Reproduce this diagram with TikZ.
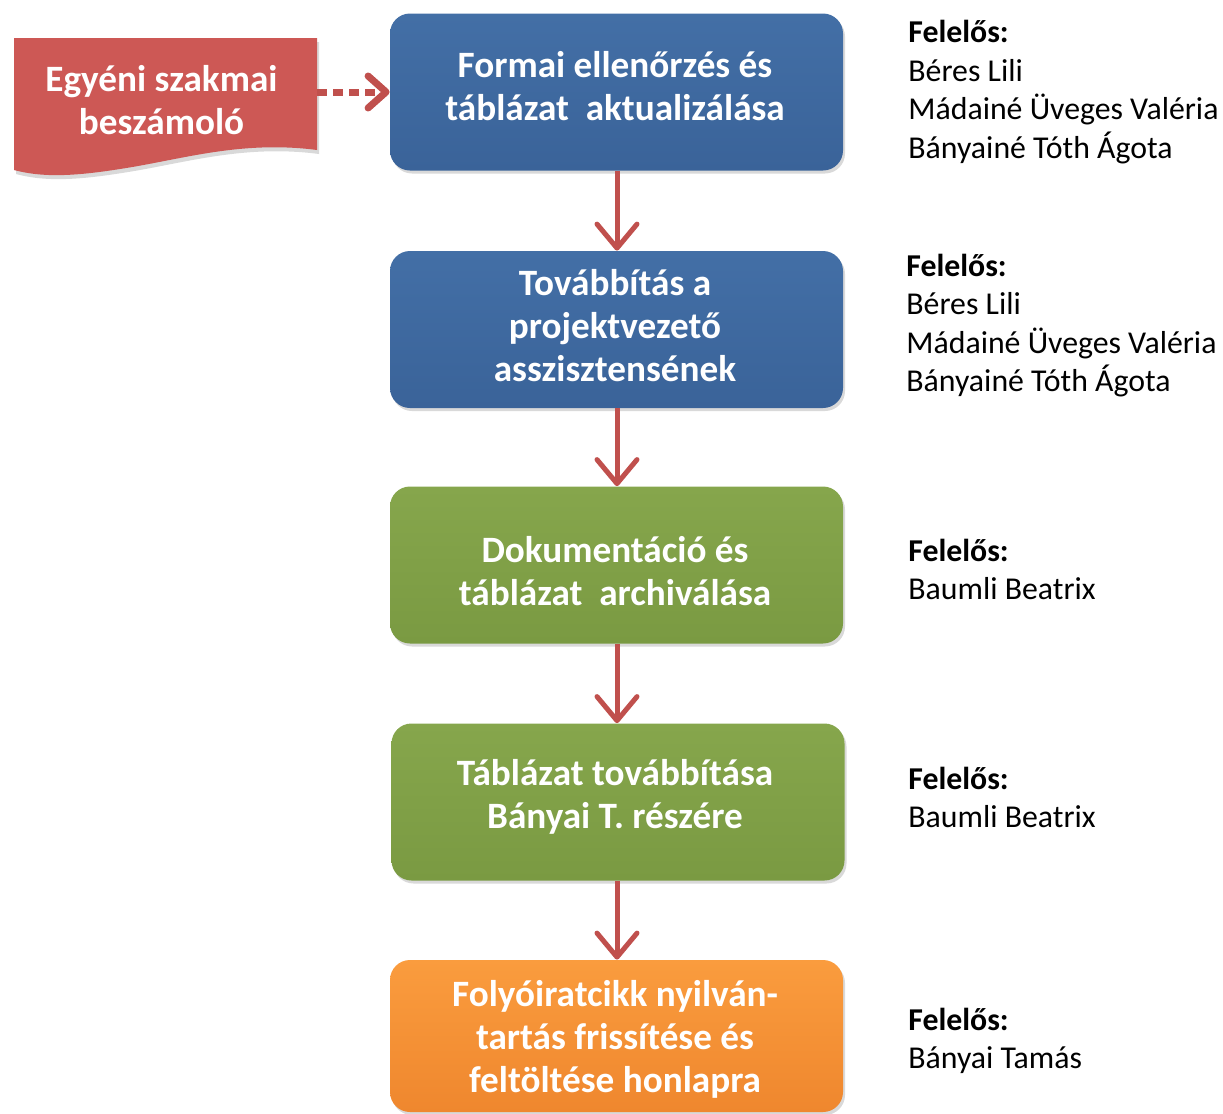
\documentclass[tikz,border=0pt]{standalone}
\usepackage{fontspec}
\setmainfont{Carlito}
\usetikzlibrary{arrows.meta,shadows,positioning}
\definecolor{linkred}{HTML}{C0504D}
\definecolor{docred}{HTML}{CD5855}
\definecolor{bluetop}{HTML}{436FA6}
\definecolor{bluebot}{HTML}{3A6399}
\definecolor{greentop}{HTML}{86A64C}
\definecolor{greenbot}{HTML}{7A9A42}
\definecolor{orangetop}{HTML}{FA9C3E}
\definecolor{orangebot}{HTML}{EF872E}

\begin{document}
\begin{tikzpicture}[x=0.5pt, y=-0.5pt, >={Straight Barb[length=12pt,width=20pt,round]},
  every node/.style={inner sep=0pt},
  stepbox/.style={rounded corners=10pt, minimum width=226.5pt, minimum height=78.5pt,
    drop shadow={opacity=0.3, shadow xshift=1pt, shadow yshift=-1.5pt}},
  steptext/.style={align=center, text=white, font=\fontsize{18.6}{21.5}\selectfont\bfseries},
  bluebox/.style={stepbox, top color=bluetop, bottom color=bluebot},
  greenbox/.style={stepbox, top color=greentop, bottom color=greenbot},
  orangebox/.style={stepbox, top color=orangetop, bottom color=orangebot},
  resp/.style={anchor=base west, align=left, font=\fontsize{15.9}{19.25}\selectfont},
  link/.style={draw=linkred, line width=2.5pt, ->}]
  \useasboundingbox (0,0) rectangle (1223,1114);

  % Report (document shape)
  \fill[docred, drop shadow={opacity=0.3, shadow xshift=1pt, shadow yshift=-2pt}]
    (14,38) -- (317,38) -- (317,150) .. controls (240,140) and (180,160) .. (120,169)
    .. controls (70,177) and (40,177) .. (14,170) -- cycle;
  \node (report) at (161.5,100) [steptext, minimum width=155.5pt] {Egyéni szakmai\\beszámoló};

  % Steps
  \node (check) at (616.5,92) [bluebox] {};
  \node (forward) at (616.5,329.5) [bluebox] {};
  \node (archive) at (616.5,565) [greenbox] {};
  \node (sendtable) at (618,802) [greenbox] {};
  \node (publish) at (616.5,1036) [orangebox, minimum height=76pt] {};

  \node (checktext) at (615,86) [steptext] {Formai ellenőrzés és\\táblázat~ aktualizálása};
  \node (forwardtext) at (615,326) [steptext] {Továbbítás a\\projektvezető\\asszisztensének};
  \node (archivetext) at (615,571.5) [steptext] {Dokumentáció és\\táblázat~ archiválása};
  \node (sendtabletext) at (615,797) [steptext] {Táblázat továbbítása\\Bányai T. részére};
  \node (publishtext) at (615,1039) [steptext] {Folyóiratcikk nyilván-\\tartás frissítése és\\feltöltése honlapra};

  % Responsible persons
  \node (resp1) at (908,158) [resp] {\textbf{Felelős:}\\Béres Lili\\Mádainé Üveges Valéria\\Bányainé Tóth Ágota};
  \node (resp2) at (906,391.5) [resp] {\textbf{Felelős:}\\Béres Lili\\Mádainé Üveges Valéria\\Bányainé Tóth Ágota};
  \node (resp3) at (908,599.5) [resp] {\textbf{Felelős:}\\Baumli Beatrix};
  \node (resp4) at (908,827.5) [resp] {\textbf{Felelős:}\\Baumli Beatrix};
  \node (resp5) at (908,1068.5) [resp] {\textbf{Felelős:}\\Bányai Tamás};

  % Edges
  \draw[draw=linkred, line width=3.5pt, dash pattern=on 5pt off 3pt,
    -{Straight Barb[length=9pt,width=16pt,round]}] (report.east |- check) -- (check.west);
  \draw[link] (check.south -| 617,0) -- (forward.north -| 617,0);
  \draw[link] (forward.south -| 617,0) -- (archive.north -| 617,0);
  \draw[link] (archive.south -| 617,0) -- (sendtable.north -| 617,0);
  \draw[link] (sendtable.south -| 617,0) -- (publish.north -| 617,0);
\end{tikzpicture}
\end{document}
